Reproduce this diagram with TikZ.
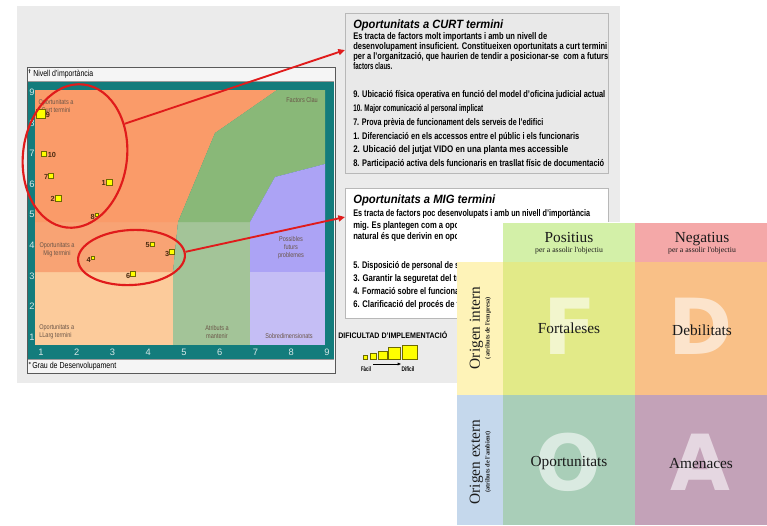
\documentclass[tikz,border=0pt]{standalone}
\usepackage{fontspec}
\setmainfont{Liberation Sans}
\newfontfamily\serifface{Liberation Serif}
\newfontfamily\wmface{DejaVu Sans}
\usepackage{graphicx}
\usetikzlibrary{shapes.geometric,arrows.meta}
\newlength\pxu \setlength\pxu{0.75pt}
\newcommand\fitw[2]{\resizebox{#1\pxu}{\height}{#2}}
\newcommand\plt[2]{\scalebox{0.8}[1]{\begin{tabular}{@{}#1@{}}#2\end{tabular}}}
\definecolor{bgg}{HTML}{EBEBEB}
\definecolor{boxg}{HTML}{E9E9E9}
\definecolor{boxb}{HTML}{B8B8B8}
\definecolor{teal1}{HTML}{137C7C}
\definecolor{or1}{HTML}{FA9B69}
\definecolor{or2}{HTML}{F8A374}
\definecolor{pea}{HTML}{FCCB9B}
\definecolor{gr1}{HTML}{89B878}
\definecolor{gr2}{HTML}{A3C498}
\definecolor{pu1}{HTML}{ACA3F5}
\definecolor{pu2}{HTML}{C5BEF5}
\definecolor{redl}{HTML}{E01B1B}
\definecolor{ylw}{HTML}{FFFF00}
\definecolor{sqb}{HTML}{6E6A00}
\definecolor{plc}{HTML}{6A5548}
\definecolor{ptc}{HTML}{4A2A10}
\definecolor{tickc}{HTML}{D6E8E8}
\definecolor{swF}{HTML}{E2EA88}
\definecolor{swD}{HTML}{F9C087}
\definecolor{swO}{HTML}{A9CEB8}
\definecolor{swA}{HTML}{C3A2B8}
\definecolor{swP}{HTML}{D3F0A8}
\definecolor{swN}{HTML}{F4A8A8}
\definecolor{swI}{HTML}{FEF3B8}
\definecolor{swE}{HTML}{C5D8EC}
\definecolor{swt}{HTML}{1A1A1A}
\begin{document}
\begin{tikzpicture}[x=0.75pt,y=-0.75pt,
  bx/.style={anchor=base west, inner sep=0, font=\fontsize{7.2}{8}\selectfont\bfseries, text=black},
  bxt/.style={anchor=base west, inner sep=0, font=\fontsize{9}{10}\selectfont\bfseries\itshape, text=black},
  pl/.style={inner sep=0, font=\fontsize{5.2}{6.2}\selectfont, text=plc},
  tick/.style={inner sep=0, font=\fontsize{7}{8}\selectfont, text=tickc},
  sqr/.style={rectangle, draw=sqb, fill=ylw, line width=0.5pt, inner sep=0, minimum size=#1\pxu},
  ptl/.style={inner sep=0, font=\fontsize{5.5}{6}\selectfont\bfseries, text=ptc},
  ell/.style={ellipse, draw=redl, line width=1.6pt, inner sep=0},
  rarr/.style={draw=redl, line width=1.4pt, -{Triangle[length=5pt,width=4.5pt]}},
  sw/.style={font=\serifface\fontsize{11.5}{13}\selectfont, text=swt, inner sep=0},
  swsub/.style={font=\serifface\fontsize{5.8}{7}\selectfont, text=swt, inner sep=0},
  swrot/.style={font=\serifface\fontsize{4.8}{6}\selectfont\bfseries, text=swt, inner sep=0, rotate=90},
  wm/.style={font=\wmface\fontsize{58}{58}\selectfont\bfseries, text=white, text opacity=0.58, inner sep=0},
  lg/.style={inner sep=0, font=\fontsize{6}{7}\selectfont\bfseries, text=black}
]
\useasboundingbox (0,0) rectangle (767,525);
\fill[white] (0,0) rectangle (767,525);
\fill[bgg] (17,6) rectangle (620,383);

% ---- chart frame ----
\draw[draw=black!65, fill=white!96!black, line width=0.6pt] (27,67) rectangle (335,373);
\fill[teal1] (28,81) rectangle (334,359);
\draw[black!40, line width=0.4pt] (28,81) -- (334,81) (28,359) -- (334,359);
\node[inner sep=0, anchor=west, font=\fontsize{6.5}{7}\selectfont] (ytitle) at (33,74.5) {\fitw{60}{Nivell d'importància}};
\node[inner sep=0, anchor=west, font=\fontsize{6.5}{7}\selectfont] (xtitle) at (32,366) {\fitw{84}{Grau de Desenvolupament}};
\draw[black!70, line width=0.4pt] (29.5,69.5) -- (29.5,73) (28.6,70.5) -- (29.5,69.5) -- (30.4,70.5);
\draw[black!70, line width=0.4pt] (28.5,363) -- (30.5,363) (29.5,362) -- (30.5,363) -- (29.5,364);

% ---- plot regions ----
\fill[pea] (35,272) rectangle (173,345);
\fill[gr2] (173,272) rectangle (250,345);
\fill[pu2] (250,272) rectangle (325,345);
\fill[or2] (35,222) -- (178,222) -- (173,272) -- (35,272) -- cycle;
\fill[gr2] (178,222) -- (250,222) -- (250,272) -- (173,272) -- cycle;
\fill[pu1] (250,222) rectangle (325,272);
\fill[or1] (35,90) -- (277,90) -- (215,133) -- (178,222) -- (35,222) -- cycle;
\fill[gr1] (277,90) -- (325,90) -- (325,164) -- (275,177) -- (250,222) -- (178,222) -- (215,133) -- cycle;
\fill[pu1] (325,164) -- (325,222) -- (250,222) -- (275,177) -- cycle;

% ticks
\foreach \v in {1,...,9} {
  \node[tick] (yt\v) at (32,{337-(\v-1)*30.6}) {\v};
  \node[tick] (xt\v) at ({41+(\v-1)*35.75},352) {\v};
}

% region labels
\node[pl] (lcurt) at (56,107) {\plt{c}{Oportunitats a\\Curt termini}};
\node[pl] (lmig) at (57,250) {\plt{c}{Oportunitats a\\Mig termini}};
\node[pl, anchor=west] (llarg) at (39,332) {\plt{l}{Oportunitats a\\LLarg termini}};
\node[pl] (lclau) at (302,101) {\plt{c}{Factors Clau}};
\node[pl] (latr) at (217,333) {\plt{c}{Atributs a\\mantenir}};
\node[pl] (lpos) at (291,248) {\plt{c}{Possibles\\futurs\\problemes}};
\node[pl] (lsob) at (289,337) {\plt{c}{Sobredimensionats}};

% data points
\node[sqr=9] (p9) at (41,114) {};
\node[ptl, anchor=west] (n9) at (45.5,115) {9};
\node[sqr=5] (p10) at (44,154) {};
\node[ptl, anchor=west] (n10) at (47.5,155) {10};
\node[sqr=5] (p7) at (51,176) {};
\node[ptl, anchor=east] (n7) at (48.5,177) {7};
\node[sqr=6] (p1) at (109,182) {};
\node[ptl, anchor=east] (n1) at (106,183) {1};
\node[sqr=6] (p2) at (58,198) {};
\node[ptl, anchor=east] (n2) at (55,199) {2};
\node[sqr=3.5] (p8) at (97,215) {};
\node[ptl, anchor=east] (n8) at (95,216.5) {8};
\node[sqr=4] (p5) at (152,244) {};
\node[ptl, anchor=east] (n5) at (150,245.5) {5};
\node[sqr=5] (p3) at (172,252) {};
\node[ptl, anchor=east] (n3) at (169.5,253.5) {3};
\node[sqr=3.5] (p4) at (93,258) {};
\node[ptl, anchor=east] (n4) at (91,259.5) {4};
\node[sqr=5] (p6) at (133,274) {};
\node[ptl, anchor=east] (n6) at (130.5,275.5) {6};

% ---- text box 1 ----
\node[draw=boxb, fill=boxg, line width=0.6pt, minimum width=263\pxu, minimum height=160\pxu, inner sep=0] (box1) at (476.5,93) {};
\node[bxt] (b1t) at (353,28.5) {\fitw{150}{Oportunitats a CURT termini}};
\node[bx] (b1a) at (353,39.5) {\fitw{194}{Es tracta de factors molt importants i amb un nivell de}};
\node[bx] (b1b) at (353,49.5) {\fitw{254}{desenvolupament insuficient. Constitueixen oportunitats a curt termini}};
\node[bx] (b1c) at (353,59.5) {\fitw{255}{per a l'organització, que haurien de tendir a posicionar-se\ \ com a futurs}};
\node[bx] (b1d) at (353,69) {\fitw{39}{factors claus.}};
\node[bx] (b1e) at (353,97) {\fitw{252}{9. Ubicació física operativa en funció del model d'oficina judicial actual}};
\node[bx] (b1f) at (353,111.5) {\fitw{130}{10. Major comunicació al personal implicat}};
\node[bx] (b1g) at (353,125.5) {\fitw{190}{7. Prova prèvia de funcionament dels serveis de l'edifici}};
\node[bx] (b1h) at (353,139) {\fitw{226}{1. Diferenciació en els accessos entre el públic i els funcionaris}};
\node[bx] (b1i) at (353,152.5) {\fitw{215}{2. Ubicació del jutjat VIDO en una planta mes accessible}};
\node[bx] (b1j) at (353,166) {\fitw{251}{8. Participació activa dels funcionaris en trasllat físic de documentació}};

% ---- text box 2 ----
\node[draw=boxb, fill=white, line width=0.6pt, minimum width=263\pxu, minimum height=130\pxu, inner sep=0] (box2) at (476.5,253) {};
\node[bxt] (b2t) at (353,203) {\fitw{142}{Oportunitats a MIG termini}};
\node[bx] (b2a) at (353,216.5) {\fitw{237}{Es tracta de factors poc desenvolupats i amb un nivell d'importància}};
\node[bx] (b2b) at (353,228.5) {\fitw{106}{mig. Es plantegen com a opo}};
\node[bx] (b2c) at (353,239.5) {\fitw{106}{natural és que derivin en opo}};
\node[bx] (b2d) at (353,268.5) {\fitw{106}{5. Disposició de personal de s}};
\node[bx] (b2e) at (353,281.5) {\fitw{106}{3. Garantir la seguretat del tr}};
\node[bx] (b2f) at (353,294.5) {\fitw{106}{4. Formació sobre el funciona}};
\node[bx] (b2g) at (353,307.5) {\fitw{106}{6. Clarificació del procés de t}};

% ---- legend ----
\node[lg, anchor=west] (lgt) at (338,335) {\fitw{109}{DIFICULTAD D'IMPLEMENTACIÓ}};
\node[sqr=4, anchor=south west] (q1) at (363,360) {};
\node[sqr=6, anchor=south west] (q2) at (370,360) {};
\node[sqr=8.5, anchor=south west] (q3) at (378,360) {};
\node[sqr=12, anchor=south west] (q4) at (388,360) {};
\node[sqr=14.5, anchor=south west] (q5) at (402,360) {};
\coordinate (la) at (373,364);
\coordinate (lb) at (401,364);
\draw[black, line width=0.5pt, -{Triangle[length=2.5pt,width=2pt]}] (la) -- (lb);
\node[lg, font=\fontsize{5}{6}\selectfont\bfseries] (lf) at (366,369.5) {\fitw{10}{Fàcil}};
\node[lg, font=\fontsize{5}{6}\selectfont\bfseries] (ld) at (408,369.5) {\fitw{13}{Difícil}};

% ---- ellipses and arrows ----
\node[ell, minimum width=104\pxu, minimum height=144\pxu, rotate=-7] (e1) at (75,156) {};
\node[ell, minimum width=107\pxu, minimum height=55\pxu, rotate=3] (e2) at (131.5,257.5) {};
\coordinate (t1) at (345,50);
\coordinate (t2) at (345,217);
\draw[rarr] (e1.40) -- (t1);
\draw[rarr] (e2.3) -- (t2);

% ---- SWOT card ----
\fill[white] (457,222) rectangle (767,525);
\fill[swP] (503,223) rectangle (635,262);
\fill[swN] (635,223) rectangle (767,262);
\fill[swI] (457,262) rectangle (503,395);
\fill[swE] (457,395) rectangle (503,525);
\fill[swF] (503,262) rectangle (635,395);
\fill[swD] (635,262) rectangle (767,395);
\fill[swO] (503,395) rectangle (635,525);
\fill[swA] (635,395) rectangle (767,525);
\node[wm] (wF) at (570,326) {F};
\node[wm] (wD) at (701,326) {D};
\node[wm] (wO) at (568,462) {O};
\node[wm] (wA) at (700,462) {A};
\node[sw, anchor=base] (hp) at (569,242) {Positius};
\node[swsub, anchor=base] (hps) at (569,252.5) {per a assolir l'objectiu};
\node[sw, anchor=base] (hn) at (702,242) {Negatius};
\node[swsub, anchor=base] (hns) at (702,252.5) {per a assolir l'objectiu};
\node[sw, rotate=90] (vi) at (476.5,328) {Origen intern};
\node[swrot] (vis) at (488,328) {(atributs de l'empresa)};
\node[sw, rotate=90] (ve) at (476.5,462) {Origen extern};
\node[swrot] (ves) at (488,462) {(atributs de l'ambient)};
\node[sw, anchor=base] (cF) at (569,333) {Fortaleses};
\node[sw, anchor=base] (cD) at (702,335) {Debilitats};
\node[sw, anchor=base] (cO) at (569,466) {Oportunitats};
\node[sw, anchor=base] (cA) at (701,468) {Amenaces};
\end{tikzpicture}
\end{document}
